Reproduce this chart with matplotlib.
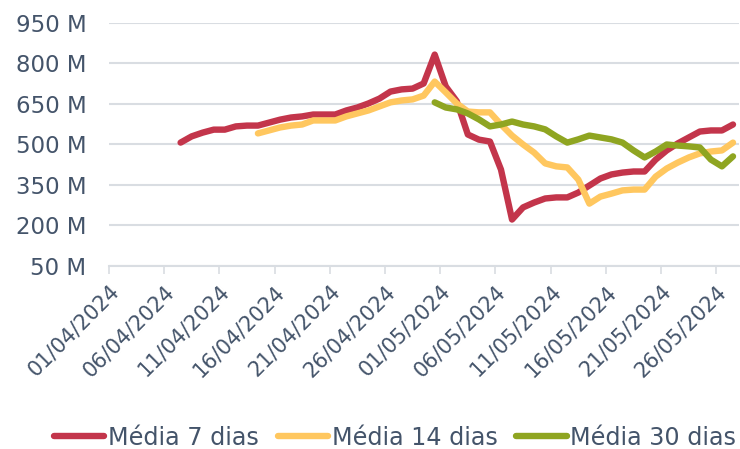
import datetime as dt
import matplotlib.pyplot as plt
import numpy as np

# dias de 01/04/2024 a 27/05/2024
inicio = dt.date(2024, 4, 1)
datas = [inicio + dt.timedelta(days=i) for i in range(57)]

# médias móveis (milhões), começando em 07/04, 14/04 e 30/04
media_7 = [507, 530, 544, 555, 555, 567, 570, 570, 581, 592, 600, 604, 611, 611,
           611, 626, 637, 652, 670, 696, 704, 707, 726, 833, 715, 660, 537, 518,
           511, 407, 222, 267, 285, 300, 304, 304, 322, 348, 374, 389, 396, 400,
           400, 444, 478, 504, 526, 548, 552, 552, 574]
media_14 = [541, 552, 563, 570, 574, 589, 589, 589, 604, 615, 626, 641, 656, 663,
            667, 681, 733, 693, 652, 622, 619, 619, 574, 533, 500, 470, 430, 419,
            415, 370, 281, 307, 318, 330, 333, 333, 381, 411, 433, 452, 467, 474,
            478, 507]
media_30 = [656, 637, 630, 615, 593, 567, 574, 585, 574, 567, 556, 530, 507, 519,
            533, 526, 519, 507, 478, 452, 474, 500, 496, 493, 489, 444, 419, 456]

series = [
    ('Média 7 dias', media_7, '#C3354B'),
    ('Média 14 dias', media_14, '#FFC75F'),
    ('Média 30 dias', media_30, '#8FA521'),
]

cor_texto = '#44546A'
cor_grade = '#D9DDE2'

fig = plt.figure(figsize=(7.4, 4.49), dpi=100)
ax = fig.add_axes([0.147, 0.4076, 0.851, 0.5412])

n = len(datas)
for nome, valores, cor in series:
    x = np.arange(n - len(valores), n)
    ax.plot(x, valores, color=cor, lw=4.6, label=nome,
            solid_capstyle='round', solid_joinstyle='round')

ax.set_xlim(-0.5, n - 0.5)
ax.set_ylim(50, 950)
ax.set_yticks(range(50, 951, 150))
ax.set_yticklabels([f'{v} M' for v in range(50, 951, 150)])
ax.yaxis.grid(True, color=cor_grade, lw=1.5)
ax.set_axisbelow(True)

pos = list(range(0, n, 5))
ax.set_xticks([p - 0.5 for p in pos])
ax.set_xticklabels([datas[p].strftime('%d/%m/%Y') for p in pos],
                   rotation=45, ha='right', rotation_mode='anchor')

for s in ['top', 'right', 'left']:
    ax.spines[s].set_visible(False)
ax.spines['bottom'].set_color(cor_grade)
ax.spines['bottom'].set_linewidth(1.5)
ax.tick_params(axis='y', length=0, pad=16, labelsize=16.5, labelcolor=cor_texto)
ax.tick_params(axis='x', length=6, width=1.2, color=cor_grade, pad=5,
               labelsize=15, labelcolor=cor_texto)

fig.legend(loc='center', bbox_to_anchor=(0.534, 0.025), ncol=3, frameon=False,
           fontsize=17.2, labelcolor=cor_texto, handlelength=2.1,
           handletextpad=0.15, columnspacing=0.8)

fig.savefig('out.png', dpi=100)
